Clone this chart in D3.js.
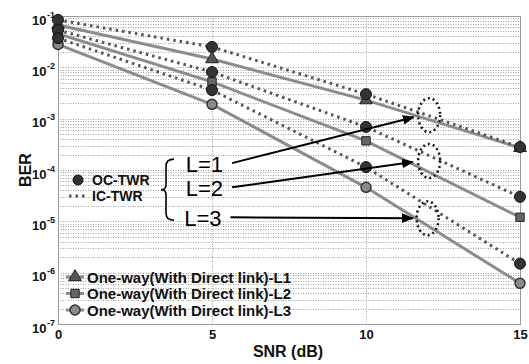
<!DOCTYPE html>
<html>
<head>
<meta charset="utf-8">
<script src="https://cdn.jsdelivr.net/npm/d3@7"></script>
<style>
	body {margin: 0; background: #fff;}
	text {font-family: "Liberation Sans", Arial, sans-serif;}
</style>
</head>
<body>
<svg width="529" height="364"></svg>
<script>
'use strict';
// chart values
const aSnr = [0, 5, 10, 15]
const aTwrL1 = [0.084, 0.025, 3.0e-3, 2.8e-4]
const aTwrL2 = [0.053, 8.1e-3, 6.9e-4, 3.0e-5]
const aTwrL3 = [0.037, 3.6e-3, 1.14e-4, 1.5e-6]
const aOneWayL1 = [0.067, 0.0145, 2.3e-3, 2.7e-4]
const aOneWayL2 = [0.045, 5.2e-3, 3.7e-4, 1.2e-5]
const aOneWayL3 = [0.028, 1.9e-3, 4.6e-5, 6.2e-7]

const aXTicks = [0, 5, 10, 15]
const aYTicks = [1e-1, 1e-2, 1e-3, 1e-4, 1e-5, 1e-6, 1e-7]

const aOneWayNames = ["One-way(With Direct link)-L1", "One-way(With Direct link)-L2", "One-way(With Direct link)-L3"]
const aTwrNames = ["OC-TWR", "IC-TWR"]

// annotations, in data units (snr, ber)
const aAnnoText = ["L=1", "L=2", "L=3"]
const aAnnoFrom = [[5.65, 1.36e-4], [5.65, 4.6e-5], [5.6, 1.2e-5]]
const aAnnoTo = [[11.55, 1.07e-3], [11.52, 1.43e-4], [11.52, 1.15e-5]]
const aRingAt = [[12.05, 1.17e-3], [12.05, 1.5e-4], [12.0, 1.15e-5]]

let eSvg = d3.select("svg")
let dLeft = 58, dRight = 520, dTop = 16, dBottom = 324

let x = d3.scaleLinear().domain([0, 15]).range([dLeft, dRight])
let y = d3.scaleLog().domain([1e-7, 1e-1]).range([dBottom, dTop])

// grid
let aMinor = []
for (let e = -7; e < -1; e++)
	for (let k = 1; k < 10; k++) aMinor.push(k * Math.pow(10, e))
aMinor.push(1e-1)

let eGrid = eSvg.append("g").attr("stroke", "#a0a0a0").attr("stroke-width", 1)
	.attr("stroke-dasharray", "1,1.5")
eGrid.selectAll("line.h").data(aMinor).enter().append("line")
	.attr("x1", dLeft).attr("x2", dRight)
	.attr("y1", d => Math.round(y(d)) + 0.5).attr("y2", d => Math.round(y(d)) + 0.5)
eGrid.selectAll("line.v").data([5, 10]).enter().append("line")
	.attr("y1", dTop).attr("y2", dBottom)
	.attr("x1", d => Math.round(x(d)) + 0.5).attr("x2", d => Math.round(x(d)) + 0.5)

// frame
eSvg.append("rect").attr("x", dLeft + 0.5).attr("y", dTop + 0.5)
	.attr("width", dRight - dLeft).attr("height", dBottom - dTop)
	.attr("fill", "none").attr("stroke", "#9a9a9a").attr("stroke-width", 1)

// axes
let gX = eSvg.append("g").attr("transform", `translate(0,${dBottom})`)
	.call(d3.axisBottom(x).tickValues(aXTicks).tickSize(0).tickPadding(6).tickFormat(d3.format("d")))
gX.select(".domain").remove()
gX.selectAll("text").attr("font-size", 13).attr("font-weight", "bold").attr("fill", "#111")

let gY = eSvg.append("g").attr("transform", `translate(${dLeft},0)`)
	.call(d3.axisLeft(y).tickValues(aYTicks).tickSize(0).tickPadding(11).tickFormat(""))
gY.select(".domain").remove()
gY.selectAll(".tick text").attr("font-size", 13).attr("font-weight", "bold").attr("fill", "#111")
	.attr("dy", "0.62em")
	.each(function(d) {
		let t = d3.select(this)
		t.append("tspan").text("10")
		t.append("tspan").attr("font-size", 9).attr("dy", -7).attr("dx", 0.5)
			.text(Math.round(Math.log10(d)))
	})
gY.selectAll(".tick text").attr("text-anchor", "start").attr("x", -26)

eSvg.append("text").attr("x", 288).attr("y", 357).attr("text-anchor", "middle")
	.attr("font-size", 16).attr("font-weight", "bold").attr("fill", "#111").text("SNR (dB)")
eSvg.append("text").attr("transform", "translate(31,170) rotate(-90)").attr("text-anchor", "middle")
	.attr("font-size", 16).attr("font-weight", "bold").attr("fill", "#111").text("BER")

// series
let line = d3.line().x((d, i) => x(aSnr[i])).y(d => y(d))

let aOneWay = [aOneWayL1, aOneWayL2, aOneWayL3]
let aTwr = [aTwrL1, aTwrL2, aTwrL3]

eSvg.append("g").selectAll("path").data(aOneWay).enter().append("path")
	.attr("d", line).attr("fill", "none").attr("stroke", "#8c8c8c").attr("stroke-width", 3)

eSvg.append("g").selectAll("path").data(aTwr).enter().append("path")
	.attr("d", line).attr("fill", "none").attr("stroke", "#555").attr("stroke-width", 3)
	.attr("stroke-dasharray", "2.5,4")

// markers
let symTri = d3.symbol().type(d3.symbolTriangle).size(70)
let symSq = d3.symbol().type(d3.symbolSquare).size(70)

function drawMarker(g, kind) {
	if (kind === 0) g.append("path").attr("d", symTri).attr("fill", "#555").attr("stroke", "#222")
	else if (kind === 1) g.append("path").attr("d", symSq).attr("fill", "#666").attr("stroke", "#222")
	else g.append("circle").attr("r", 5).attr("fill", "#8a8a8a").attr("stroke", "#333").attr("stroke-width", 1.5)
}

aOneWay.forEach((s, k) => {
	s.forEach((v, i) => {
		let g = eSvg.append("g").attr("transform", `translate(${x(aSnr[i])},${y(v)})`)
		drawMarker(g, k)
	})
})

aTwr.forEach(s => {
	eSvg.append("g").selectAll("circle").data(s).enter().append("circle")
		.attr("cx", (d, i) => x(aSnr[i])).attr("cy", d => y(d)).attr("r", 5.5)
		.attr("fill", "#333").attr("stroke", "#111").attr("stroke-width", 1)
})

// annotations
eSvg.append("defs").append("marker").attr("id", "arr")
	.attr("viewBox", "0 0 10 10").attr("refX", 9).attr("refY", 5)
	.attr("markerWidth", 6).attr("markerHeight", 6).attr("orient", "auto")
	.append("path").attr("d", "M0,1 L10,5 L0,9 Z").attr("fill", "#000")

aAnnoFrom.forEach((p, i) => {
	let q = aAnnoTo[i]
	eSvg.append("line").attr("x1", x(p[0])).attr("y1", y(p[1]))
		.attr("x2", x(q[0])).attr("y2", y(q[1]))
		.attr("stroke", "#000").attr("stroke-width", 2).attr("marker-end", "url(#arr)")
	eSvg.append("text").attr("x", x(p[0]) - 9).attr("y", y(p[1]) + 9)
		.attr("text-anchor", "end").attr("font-size", 22).attr("fill", "#000")
		.text(aAnnoText[i])
})

aRingAt.forEach(p => {
	eSvg.append("ellipse").attr("cx", x(p[0])).attr("cy", y(p[1]))
		.attr("rx", 11).attr("ry", 17).attr("fill", "none")
		.attr("stroke", "#111").attr("stroke-width", 2.5).attr("stroke-dasharray", "2,3")
})

// brace between L=1 and L=3 labels
let bx = x(aAnnoFrom[0][0]) - 66
let by1 = y(aAnnoFrom[0][1]) - 4, by2 = y(aAnnoFrom[2][1]) + 3
let bm = (by1 + by2) / 2
eSvg.append("path")
	.attr("d", `M${bx + 8},${by1} Q${bx},${by1} ${bx},${by1 + 7} L${bx},${bm - 5} Q${bx},${bm} ${bx - 5},${bm} Q${bx},${bm} ${bx},${bm + 5} L${bx},${by2 - 7} Q${bx},${by2} ${bx + 8},${by2}`)
	.attr("fill", "none").attr("stroke", "#000").attr("stroke-width", 1.6)

// upper legend
let eLeg1 = eSvg.append("g").attr("transform", "translate(78,180)")
eLeg1.append("circle").attr("r", 5).attr("fill", "#333").attr("stroke", "#111")
eLeg1.append("line").attr("x1", -9).attr("x2", 10).attr("y1", 16).attr("y2", 16)
	.attr("stroke", "#555").attr("stroke-width", 3).attr("stroke-dasharray", "2.5,4")
eLeg1.selectAll("text").data(aTwrNames).enter().append("text")
	.attr("x", 14).attr("y", (d, i) => i * 16 + 5)
	.attr("font-size", 14).attr("font-weight", "bold").attr("fill", "#111").text(d => d)

// lower legend
aOneWayNames.forEach((n, k) => {
	let g = eSvg.append("g").attr("transform", `translate(75,${277 + k * 16.5})`)
	g.append("line").attr("x1", -9).attr("x2", 9).attr("stroke", "#8c8c8c").attr("stroke-width", 3)
	drawMarker(g, k)
	g.append("text").attr("x", 12).attr("y", 5.5)
		.attr("font-size", 15).attr("font-weight", "bold").attr("fill", "#111").text(n)
})
</script>
</body>
</html>
